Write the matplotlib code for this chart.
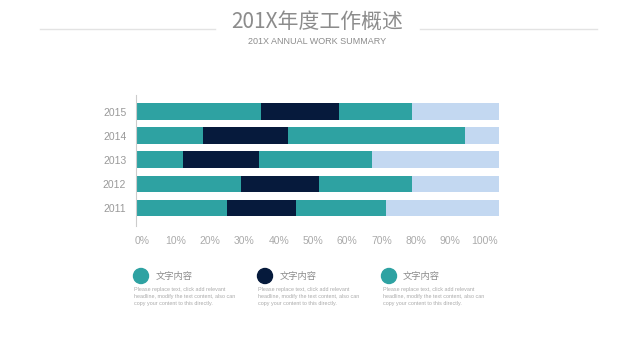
import matplotlib.pyplot as plt
from matplotlib.patches import Ellipse

plt.rcParams['font.family'] = ['Noto Sans CJK SC', 'DejaVu Sans']

# Data (percent of each bar)
years = ['2011', '2012', '2013', '2014', '2015']
seg1 = [25, 29, 13, 18.5, 34.5]
seg2 = [19, 21.5, 21, 23.5, 21.5]
seg3 = [25, 25.5, 31, 48.5, 20]
seg4 = [31, 24, 35, 9.5, 24]
ticks = [0, 10, 20, 30, 40, 50, 60, 70, 80, 90, 100]
legend_titles = ['文字内容', '文字内容', '文字内容']
legend_body = 'Please replace text, click add relevant\nheadline, modify the text content, also can\ncopy your content to this directly.'

teal = '#2ea2a2'
navy = '#061a3c'
light = '#c3d8f1'
gray = '#999999'

W, H = 635, 361
fig = plt.figure(figsize=(6.35, 3.61), dpi=100)

# Title block
fig.text(0.5, 1 - 22 / H, '201X年度工作概述', ha='center', va='center',
         fontsize=15, color='#8c8c8c')
fig.text(0.5, 1 - 42 / H, '201X ANNUAL WORK SUMMARY', ha='center', va='center',
         fontsize=6.5, color='#8c8c8c', family='Liberation Sans')
fig.add_artist(plt.Line2D([40 / W, 215 / W], [1 - 29 / H] * 2, color='#e3e3e3', lw=1))
fig.add_artist(plt.Line2D([420 / W, 597 / W], [1 - 29 / H] * 2, color='#e3e3e3', lw=1))

# Stacked bars
ax = fig.add_axes([136 / W, 1 - 226 / H, 363 / W, 131 / H])
y = range(len(years))
left = [0] * len(years)
for vals, c in [(seg1, teal), (seg2, navy), (seg3, teal), (seg4, light)]:
    ax.barh(y, vals, left=left, height=0.69, color=c, edgecolor='none')
    left = [a + b for a, b in zip(left, vals)]

ax.set_xlim(0, 100)
ax.set_ylim(-0.75, 4.69)
ax.set_yticks(list(y))
ax.set_yticklabels(years)
# the original's percent labels sit slightly inside the bar span
ax.set_xticks([1.6 + t * 0.943 for t in ticks])
ax.set_xticklabels([f'{t}%' for t in ticks])
ax.tick_params(axis='both', length=0, labelsize=7.5, labelcolor=gray)
ax.tick_params(axis='x', pad=7, labelcolor='#aaaaaa')
ax.tick_params(axis='y', pad=7)
for s in ['top', 'right', 'bottom']:
    ax.spines[s].set_visible(False)
ax.spines['left'].set_color('#cccccc')
for lab in ax.get_xticklabels() + ax.get_yticklabels():
    lab.set_family('Liberation Sans')

# Legend blocks under the chart
circle_x = [141, 265, 389]
text_x = [156, 280, 403]
body_x = [134, 258, 383]
colors = [teal, navy, teal]
for cx, tx, bx, c, title in zip(circle_x, text_x, body_x, colors, legend_titles):
    fig.add_artist(Ellipse((cx / W, 1 - 276 / H), 15 / W, 15 / H, color=c,
                           transform=fig.transFigure))
    fig.text(tx / W, 1 - 276 / H, title, ha='left', va='center',
             fontsize=6.7, color='#8c8c8c')
    fig.text(bx / W, 1 - 287 / H, legend_body, ha='left', va='top',
             fontsize=3.9, color='#aaaaaa', linespacing=1.55, family='Liberation Sans')

plt.savefig('out.png', dpi=100)
